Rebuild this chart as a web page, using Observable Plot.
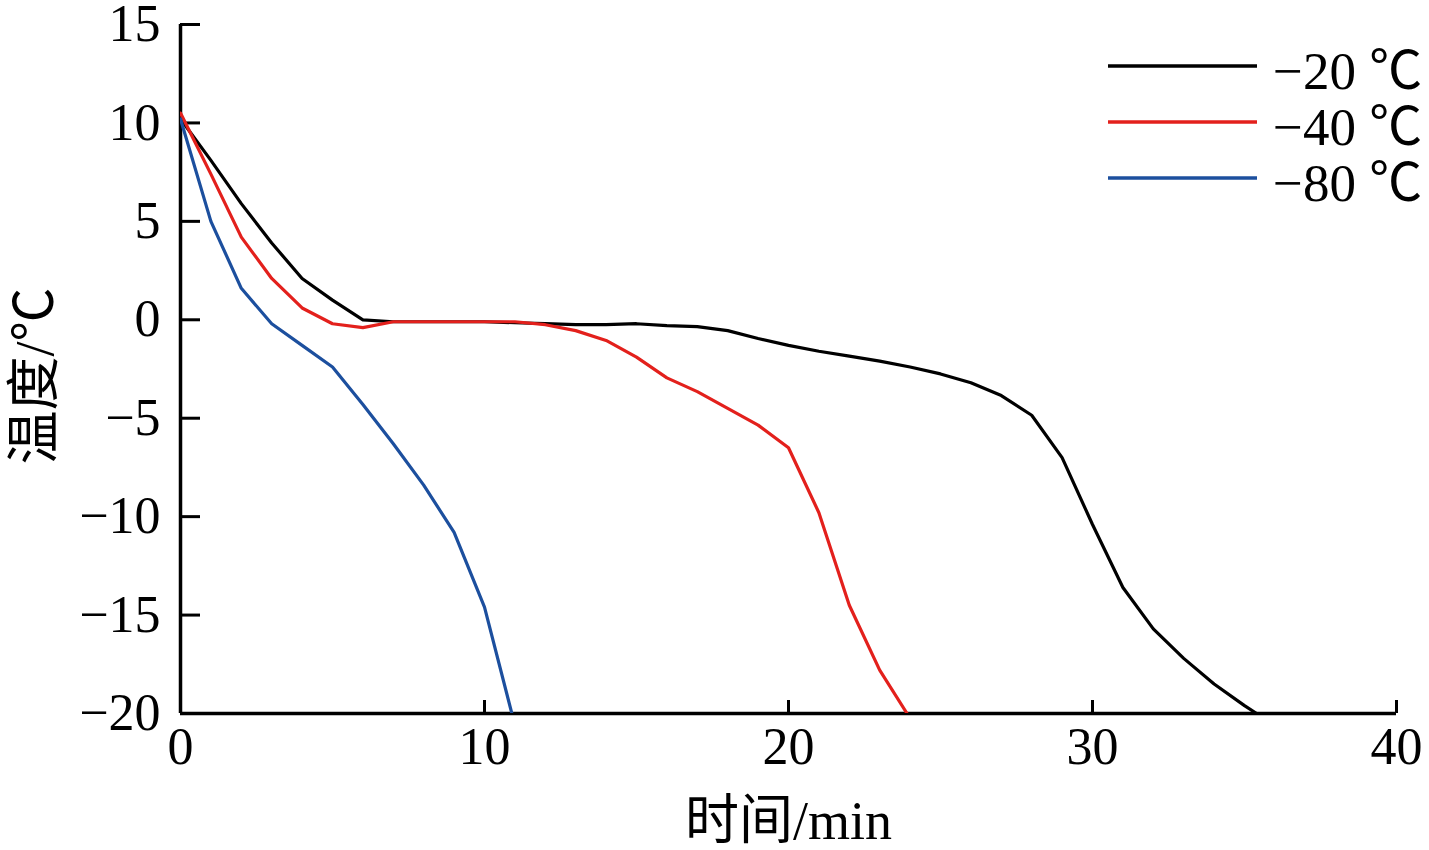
<!DOCTYPE html>
<html><head><meta charset="utf-8">
<script src="https://cdn.jsdelivr.net/npm/d3@7"></script>
<script src="https://cdn.jsdelivr.net/npm/@observablehq/plot@0.6"></script>
<style>
html,body{margin:0;padding:0;background:#fff;}
#wrap{position:relative;width:1429px;height:850px;}
#legend{position:absolute;left:1108px;top:38px;font-family:"Liberation Serif","Noto Sans CJK SC",serif;font-size:53px;color:#000;}
.row{display:flex;align-items:center;height:56px;white-space:nowrap;}
.row svg{margin-right:16px;}
</style></head><body><div id="wrap"><div id="legend"></div></div>
<script>
const seriesNames = ["−20 ℃", "−40 ℃", "−80 ℃"];
const seriesColors = ["#000000", "#e3201c", "#1c4f9e"];

const time20 = [0,1,2,3,4,5,6,7,8,9,10,11,12,13,14,15,16,17,18,19,20,21,22,23,24,25,26,27,28,29,30,31,32,33,34,35,35.4];
const temp20 = [10.2,8.1,5.9,3.9,2.1,1.0,0.0,-0.1,-0.1,-0.1,-0.1,-0.15,-0.2,-0.25,-0.25,-0.2,-0.3,-0.35,-0.55,-0.95,-1.3,-1.6,-1.85,-2.1,-2.4,-2.75,-3.2,-3.85,-4.85,-7.0,-10.4,-13.6,-15.7,-17.2,-18.5,-19.6,-20];

const time40 = [0,1,2,3,4,5,6,7,8,9,10,11,12,13,14,15,16,17,18,19,20,21,22,23,23.9];
const temp40 = [10.5,7.4,4.2,2.1,0.6,-0.2,-0.4,-0.1,-0.1,-0.1,-0.1,-0.1,-0.25,-0.55,-1.05,-1.9,-2.95,-3.65,-4.5,-5.35,-6.5,-9.8,-14.5,-17.8,-20];

const time80 = [0,1,2,3,4,5,6,7,8,9,10,10.9];
const temp80 = [10.2,5.0,1.6,-0.2,-1.3,-2.4,-4.3,-6.3,-8.4,-10.8,-14.6,-20];

const xTicks = [0,10,20,30,40];
const yTicks = [-20,-15,-10,-5,0,5,10,15];
const xLabel = "时间/min";
const yLabel = "温度/℃";

const seriesTimes = [time20, time40, time80];
const seriesTemps = [temp20, temp40, temp80];
const data = [];
seriesNames.forEach((s, i) => {
  seriesTimes[i].forEach((t, j) => data.push({s, t, T: seriesTemps[i][j]}));
});

const fmt = d => d < 0 ? "−" + (-d) : String(d);
const font = '"Liberation Serif","Noto Sans CJK SC",serif';

const plot = Plot.plot({
  width: 1429, height: 850,
  marginLeft: 180, marginRight: 33, marginTop: 24, marginBottom: 137,
  style: {fontFamily: font, fontSize: "52px", color: "#000", background: "#fff"},
  x: {domain: [0, 40]},
  y: {domain: [-20, 15]},
  color: {domain: seriesNames, range: seriesColors},
  marks: [
    Plot.axisX({ticks: xTicks, tickSize: -13, fill: "none", strokeWidth: 3, label: null}),
    Plot.axisX({ticks: xTicks, tickSize: 0, tickPadding: 14, stroke: "none", tickFormat: fmt, label: null}),
    Plot.axisY({ticks: yTicks, tickSize: -20, fill: "none", strokeWidth: 3, label: null}),
    Plot.axisY({ticks: yTicks, tickSize: 0, tickPadding: 20, stroke: "none", tickFormat: fmt, label: null}),
    Plot.ruleX([0], {strokeWidth: 3.5}),
    Plot.ruleY([-20], {strokeWidth: 3.5}),
    Plot.line(data, {x: "t", y: "T", z: "s", stroke: "s", strokeWidth: 3.2, clip: true}),
    Plot.text([xLabel], {frameAnchor: "bottom", dy: 108, fontSize: 54, textAnchor: "middle", lineAnchor: "middle"}),
    Plot.text([yLabel], {frameAnchor: "left", dx: -145, dy: 7, rotate: -90, fontSize: 54, textAnchor: "middle", lineAnchor: "middle"})
  ]
});
document.getElementById("wrap").prepend(plot);

const legend = document.getElementById("legend");
seriesNames.forEach((s, i) => {
  const row = document.createElement("div");
  row.className = "row";
  row.innerHTML = `<svg width="149" height="6"><line x1="0" x2="149" y1="3" y2="3" stroke="${seriesColors[i]}" stroke-width="3.5"/></svg><span>${s}</span>`;
  legend.appendChild(row);
});
</script>
</body></html>
